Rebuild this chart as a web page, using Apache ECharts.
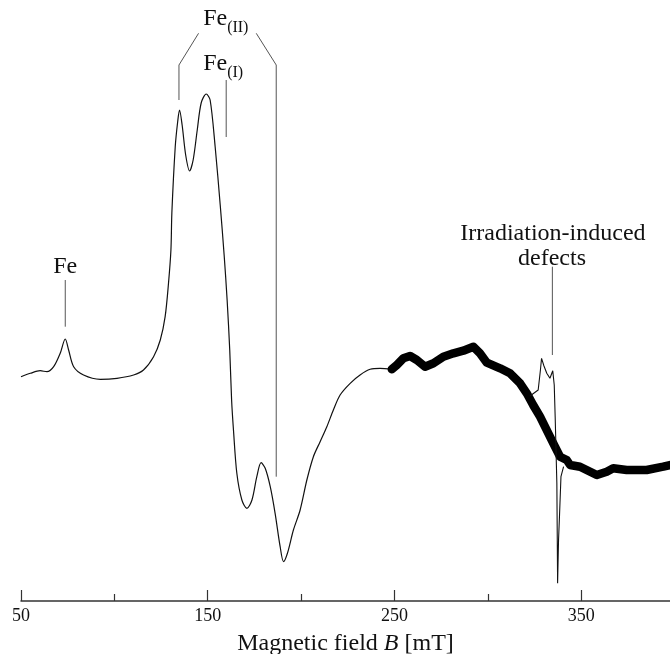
<!DOCTYPE html>
<html>
<head>
<meta charset="utf-8">
<script src="https://cdn.jsdelivr.net/npm/echarts@6/dist/echarts.min.js"></script>
<style>html,body{margin:0;padding:0;background:#fff;}</style>
</head>
<body>
<div id="main" style="width: 670px;height:654px;"></div>
<script>
    // thin trace, 50 - 250 mT (signal in arbitrary units)
    var fieldA = [50, 55, 60.3, 63.9, 67.5, 71, 73.7, 75.5, 78.2, 83.5, 92.5, 101.4, 110.3, 115.6, 121, 124.6,
        127.2, 129, 130.3, 130.8, 132.6, 133.9, 134.9, 136.3, 138.2, 140.3, 142.2, 144.4, 146.5, 149.2, 151.3,
        154, 156.7, 158.8, 160.4, 161.8, 162.8, 163.8, 165.6, 168.3, 171, 173.7, 176.3, 178.6, 180.8, 183.5,
        186.1, 188.8, 190.6, 192.7, 195.9, 199.5, 203.1, 206.6, 210.2, 213.8, 217.3, 220.9, 226.3, 231.6,
        237, 242.3, 248.6];
    var signalA = [3.3, 6.7, 9.3, 8.3, 13.3, 26.7, 41, 30, 13.3, 5, 0.7, 1.7, 5, 10, 23.3, 40,
        63.3, 96.7, 130, 167, 233, 258, 270, 255, 225, 209, 220, 250, 277, 286, 280,
        233, 175, 125, 80, 30, -20, -50, -93.3, -120, -128.3, -120, -96.7, -82.7, -88.3, -106.7,
        -133.3, -166.7, -181.7, -173.3, -150, -130, -100, -76.7, -61.7, -46.7, -30, -15, -3.3, 5,
        10.7, 11.7, 10.7];

    // heavy trace, 250 - 400 mT
    var fieldB = [248.6, 251.3, 254.8, 258.4, 262, 266.4, 270.9, 276.2, 281.6, 286.9, 292.3, 295.8, 299.5,
        306.6, 311.9, 317.3, 320.9, 324.3, 328, 335.1, 338.7, 342.3, 344.1, 349.4, 358.4, 363.7, 367.2,
        374.4, 385.1, 394, 397.6];
    var signalB = [10.7, 15, 21.7, 24, 20, 13.3, 16.7, 23.3, 26.7, 29.3, 33.3, 26.7, 17.3,
        11.7, 6.7, -3.3, -13.3, -25, -36.7, -63.3, -76.7, -80, -85, -86.7, -95, -91.7, -88.3,
        -90, -90, -86.7, -85];

    // irradiation-induced defect line
    var fieldC = [322.6, 327, 328.2, 328.8, 330.1, 331.6, 333.3, 334.8, 335.6, 336.1, 337, 337.4, 337.9,
        338.4, 339.2, 340.6];
    var signalC = [-16, -10, 10, 21.7, 14, 6.7, 1.7, 9.3, -5, -36.7, -103, -203.3, -160,
        -136.7, -96.7, -86.7];

    // tick positions
    var majorTicks = [50, 150, 250, 350];
    var minorTicks = [100, 200, 300];

    // annotation leader lines
    var feLine = [[73.7, 100], [73.7, 53.3]];
    var fe2Left = [[134.6, 280], [134.6, 315], [145.1, 346.7]];
    var fe2Right = [[176, 346.7], [186.7, 315], [186.7, -96.7]];
    var fe1Line = [[159.9, 300], [159.9, 243]];
    var defLine = [[334.6, 113.3], [334.6, 25]];

    // annotation texts [text, field, signal]
    var notes = [
        ['Fe', 73.7, 113.3, 'big', 'center'],
        ['Fe', 160.4, 361, 'big', 'right'],
        ['(II)', 160.4, 352, 'sub', 'left'],
        ['Fe', 160.4, 316.5, 'big', 'right'],
        ['(I)', 160.4, 307.5, 'sub', 'left'],
        ['Irradiation-induced', 334.9, 146.3, 'big', 'center'],
        ['defects', 334.4, 121.3, 'big', 'center']
    ];

    var serif = '"Liberation Serif", "Times New Roman", serif';

    function pairs(xs, ys) {
        return xs.map(function (x, i) { return [x, ys[i]]; });
    }
    function guide(d) {
        return {
            type: 'line', data: d, symbol: 'none', silent: true,
            lineStyle: {color: '#555', width: 1}
        };
    }

    var myChart = echarts.init(document.getElementById('main'));

    var option = {
        backgroundColor: '#FFFFFF',
        animation: false,
        grid: {left: 21, top: 1, right: 0, height: 600, outerBoundsMode: 'none', containLabel: false},
        xAxis: [{
            type: 'value',
            min: 50,
            max: 397.6,
            axisLine: {onZero: false, lineStyle: {color: '#333', width: 1.5}},
            axisTick: {inside: true, length: 11, customValues: majorTicks, lineStyle: {color: '#333', width: 1.2}},
            axisLabel: {
                margin: 6,
                color: '#111',
                fontFamily: serif,
                fontSize: 18,
                customValues: majorTicks
            },
            splitLine: {show: false},
            name: 'Magnetic field {i|B} [mT]',
            nameLocation: 'middle',
            nameGap: 31,
            nameTextStyle: {
                color: '#111', fontFamily: serif, fontSize: 24,
                rich: {i: {fontStyle: 'italic', fontFamily: serif, fontSize: 24, color: '#111'}}
            }
        }, {
            type: 'value',
            min: 50,
            max: 397.6,
            position: 'bottom',
            axisLine: {show: false, onZero: false},
            axisTick: {inside: true, length: 7, customValues: minorTicks, lineStyle: {color: '#333', width: 1.2}},
            axisLabel: {show: false},
            splitLine: {show: false}
        }],
        yAxis: {
            type: 'value',
            min: -221,
            max: 379,
            show: false
        },
        series: [
            {
                type: 'line', data: pairs(fieldA, signalA), symbol: 'none',
                smooth: 0.3,
                lineStyle: {color: '#111', width: 1.2}
            },
            {
                type: 'line', data: pairs(fieldB, signalB), symbol: 'none',
                lineStyle: {color: '#000', width: 8.5, cap: 'round', join: 'round'}
            },
            {
                type: 'line', data: pairs(fieldC, signalC), symbol: 'none',
                lineStyle: {color: '#111', width: 1.1}
            },
            guide(feLine), guide(fe2Left), guide(fe2Right), guide(fe1Line), guide(defLine)
        ]
    };

    myChart.setOption(option);

    var texts = notes.map(function (n) {
        var p = myChart.convertToPixel({gridIndex: 0}, [n[1], n[2]]);
        var size = n[3] === 'sub' ? 16 : 24;
        return {
            type: 'text',
            x: p[0],
            y: p[1],
            silent: true,
            style: {
                text: n[0],
                font: size + 'px ' + serif,
                fill: '#111',
                align: n[4], textAlign: n[4],
                verticalAlign: 'middle', textVerticalAlign: 'middle'
            }
        };
    });
    myChart.setOption({graphic: texts});
</script>
</body>
</html>
